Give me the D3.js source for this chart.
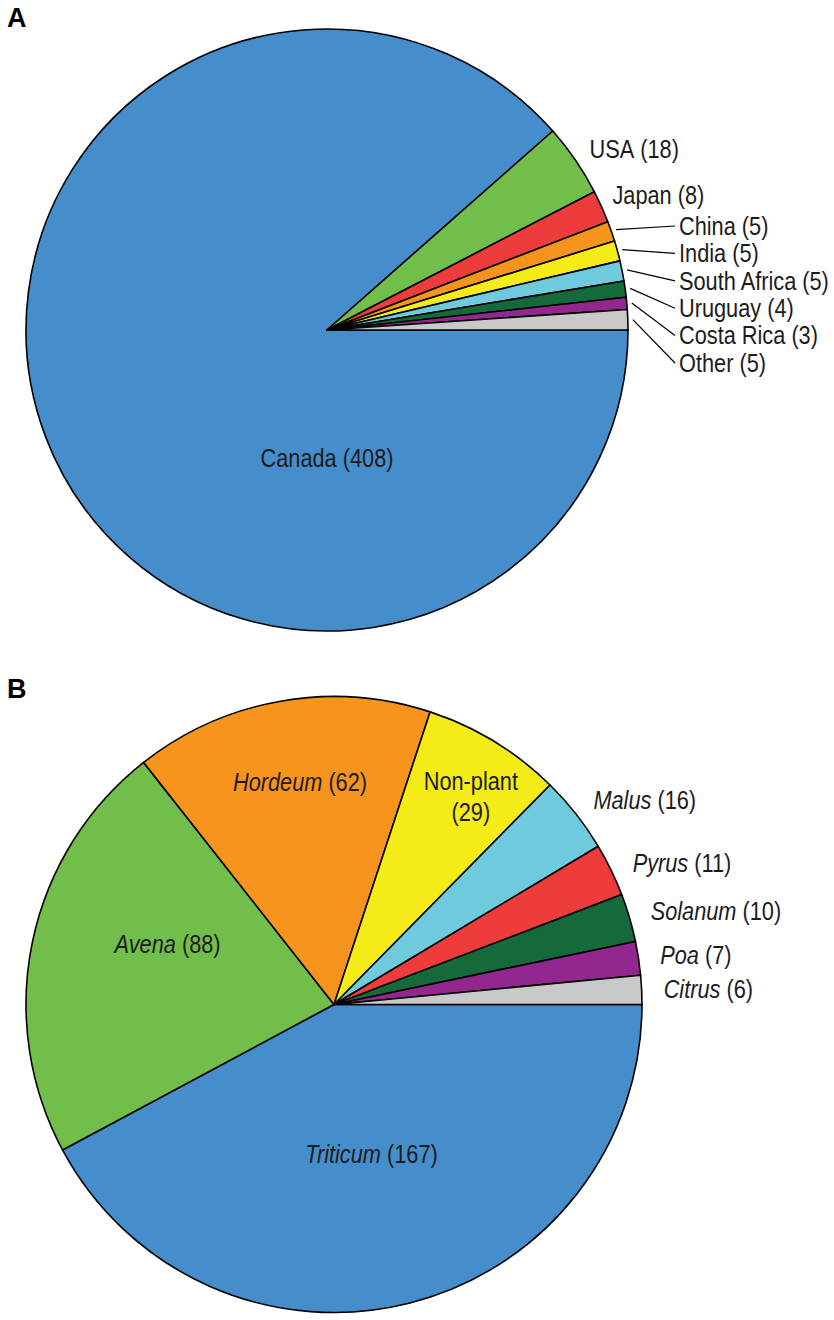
<!DOCTYPE html>
<html><head><meta charset="utf-8">
<script src="https://cdn.jsdelivr.net/npm/d3@7/dist/d3.min.js"></script>
<style>body{margin:0;background:#fff}</style>
</head><body>
<svg id="chart" width="834" height="1320"></svg>
<script>
// ---------- DATA ----------
// Panel A: country of origin
const countryNames  = ["Canada","USA","Japan","China","India","South Africa","Uruguay","Costa Rica","Other"];
const countryCounts = [408, 18, 8, 5, 5, 5, 4, 3, 5];
const countryColors = ["#468dcb","#72be4b","#ee3b3c","#f7941e","#f4eb17","#6ecadc","#16693a","#93278f","#c9c9c9"];

// Panel B: host genus
const hostNames  = ["Triticum","Avena","Hordeum","Non-plant","Malus","Pyrus","Solanum","Poa","Citrus"];
const hostCounts = [167, 88, 62, 29, 16, 11, 10, 7, 6];
const hostItalic = [true, true, true, false, true, true, true, true, true];
const hostColors = ["#468dcb","#72be4b","#f7941e","#f4eb17","#6ecadc","#ee3b3c","#16693a","#93278f","#c9c9c9"];

// ---------- LAYOUT ----------
const FONT = "'Liberation Sans', Arial, Helvetica, sans-serif";
const FS = 25, SX = 0.87, TXT = "#1c1c1c";
const svg = d3.select("#chart");

const layoutA = {
  cx: 327, cy: 330, r: 301,
  labels: {
    "Canada": {mode: "inner", f: 0.427, ang: -90},
    "USA": {mode: "outer", R: 318, dy: -1},
    "Japan": {mode: "outer", R: 313, dy: -6},
    "China": {mode: "leader"}, "India": {mode: "leader"}, "South Africa": {mode: "leader"},
    "Uruguay": {mode: "leader"}, "Costa Rica": {mode: "leader"}, "Other": {mode: "leader"}
  },
  leaderTop: 226, leaderStep: 27.4, leaderTextX: 679
};
const layoutB = {
  cx: 334, cy: 1004.5, r: 308,
  labels: {
    "Triticum": {mode: "inner", f: 0.5},
    "Avena": {mode: "inner", f: 0.575, ang: 160},
    "Hordeum": {mode: "inner", f: 0.73, ang: 98.7},
    "Non-plant": {mode: "inner2", f: 0.807, ang: 56.6},
    "Malus": {mode: "outer", R: 330}, "Pyrus": {mode: "outer", R: 332, dy: 4},
    "Solanum": {mode: "outer", R: 330}, "Poa": {mode: "outer", R: 330}, "Citrus": {mode: "outer", R: 330}
  }
};

function polar(cx, cy, R, a) { // a: d3 angle (clockwise from 12 o'clock)
  return [cx + R * Math.sin(a), cy - R * Math.cos(a)];
}
function ccwDegToD3(deg) { return (90 - deg) * Math.PI / 180; }

function addLabel(g, x, y, parts, anchor) {
  const t = g.append("g").attr("transform", `translate(${x},${y}) scale(${SX},1)`)
    .append("text")
    .attr("text-anchor", anchor)
    .attr("dy", "0.35em")
    .attr("font-family", FONT).attr("font-size", FS).attr("fill", TXT);
  parts.forEach(p => t.append("tspan").attr("font-style", p.it ? "italic" : "normal").text(p.s));
  return t;
}

function drawPie(names, counts, colors, italic, L) {
  const items = names.map((n, i) => ({name: n, value: counts[i], color: colors[i], it: italic ? italic[i] : false}));
  const pie = d3.pie().sort(null).value(d => d.value)
    .startAngle(Math.PI / 2).endAngle(Math.PI / 2 + 2 * Math.PI);
  const arcs = pie(items);
  const arc = d3.arc().innerRadius(0).outerRadius(L.r);
  const g = svg.append("g");
  g.append("g").attr("transform", `translate(${L.cx},${L.cy})`)
    .selectAll("path").data(arcs).join("path")
    .attr("d", arc).attr("fill", d => d.data.color)
    .attr("stroke", "#000").attr("stroke-width", 1.6).attr("stroke-linejoin", "round");

  let li = 0;
  arcs.forEach(a => {
    const d = a.data, cfg = L.labels[d.name];
    const mid = (a.startAngle + a.endAngle) / 2;
    const parts = [{s: d.name, it: d.it}, {s: " (" + d.value + ")", it: false}];
    if (cfg.mode === "inner") {
      const ang = cfg.ang !== undefined ? ccwDegToD3(cfg.ang) : mid;
      const [x, y] = polar(L.cx, L.cy, cfg.f * L.r, ang);
      addLabel(g, x, y, parts, "middle");
    } else if (cfg.mode === "inner2") {
      const ang = cfg.ang !== undefined ? ccwDegToD3(cfg.ang) : mid;
      const [x, y] = polar(L.cx, L.cy, cfg.f * L.r, ang);
      addLabel(g, x, y - 15.5, [{s: d.name, it: d.it}], "middle");
      addLabel(g, x, y + 15, [{s: "(" + d.value + ")", it: false}], "middle");
    } else if (cfg.mode === "outer") {
      const [x, y] = polar(L.cx, L.cy, cfg.R, mid);
      addLabel(g, x, y + (cfg.dy || 0), parts, "start");
    } else if (cfg.mode === "leader") {
      const ly = L.leaderTop + li * L.leaderStep;
      li++;
      const [sx, sy] = polar(L.cx, L.cy, L.r + 5, mid);
      g.append("line").attr("x1", sx).attr("y1", sy)
        .attr("x2", L.leaderTextX - 4).attr("y2", ly)
        .attr("stroke", "#000").attr("stroke-width", 1.2);
      addLabel(g, L.leaderTextX, ly, parts, "start");
    }
  });
}

drawPie(countryNames, countryCounts, countryColors, null, layoutA);
drawPie(hostNames, hostCounts, hostColors, hostItalic, layoutB);

// panel letters
svg.append("text").attr("x", 7).attr("y", 27).text("A")
  .attr("font-family", FONT).attr("font-weight", "bold").attr("font-size", 27).attr("fill", "#000");
svg.append("text").attr("x", 7).attr("y", 698).text("B")
  .attr("font-family", FONT).attr("font-weight", "bold").attr("font-size", 27).attr("fill", "#000");
</script>
</body></html>
